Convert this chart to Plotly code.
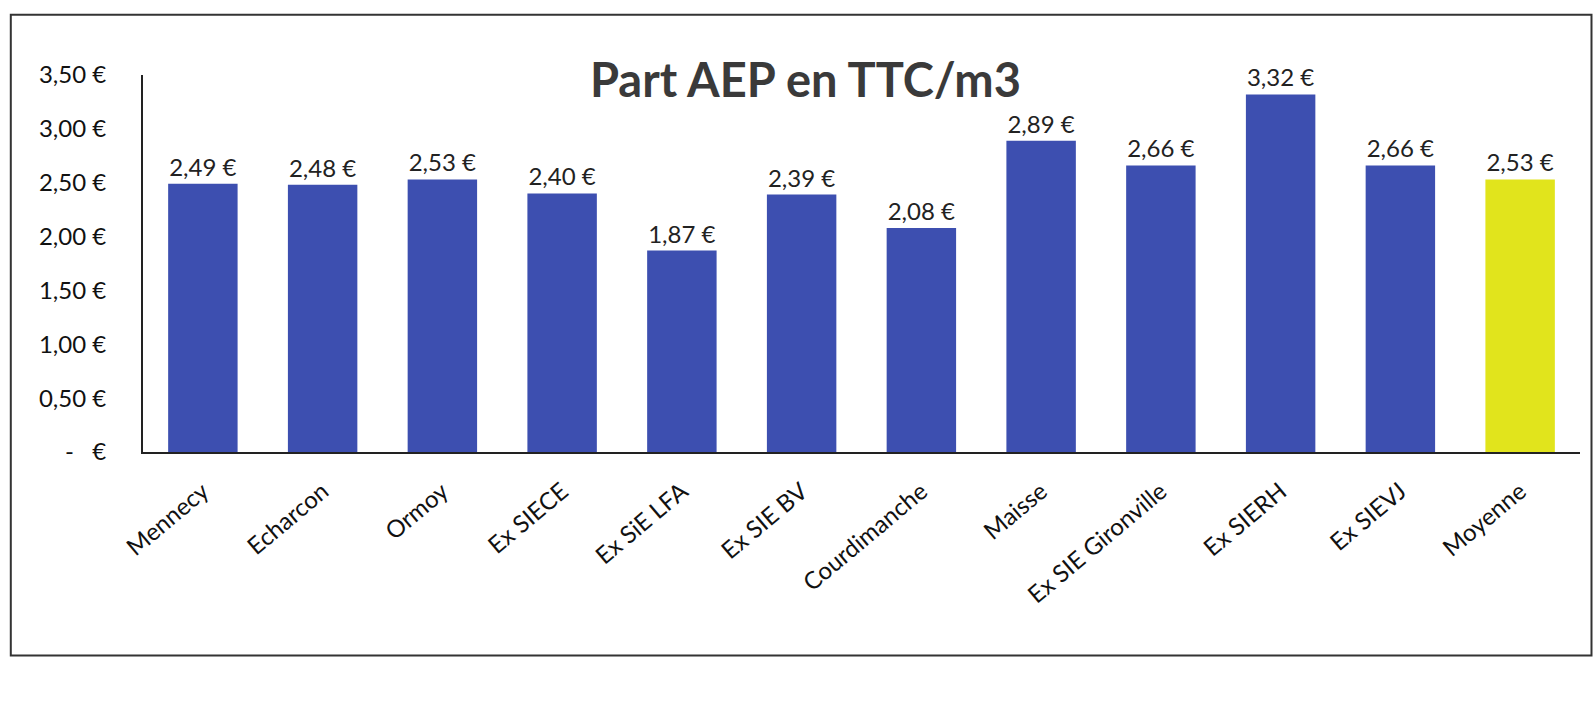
import plotly.graph_objects as go

# Prix de l'eau potable (part AEP, TTC par m3) par commune / ex-syndicat
categories = ["Mennecy", "Echarcon", "Ormoy", "Ex SIECE", "Ex SiE LFA", "Ex SIE BV",
              "Courdimanche", "Maisse", "Ex SIE Gironville", "Ex SIERH", "Ex SIEVJ", "Moyenne"]
values = [2.49, 2.48, 2.53, 2.40, 1.87, 2.39, 2.08, 2.89, 2.66, 3.32, 2.66, 2.53]

tick_values = [0, 0.5, 1.0, 1.5, 2.0, 2.5, 3.0, 3.5]
tick_labels = ["-   €", "0,50 €", "1,00 €", "1,50 €", "2,00 €", "2,50 €", "3,00 €", "3,50 €"]

BLUE = "#3d4fb0"
YELLOW = "#e1e41c"
colors = [YELLOW if c == "Moyenne" else BLUE for c in categories]
labels = [f"{v:.2f}".replace(".", ",") + " €" for v in values]

FONT = "Lato, Open Sans, sans-serif"

fig = go.Figure(
    go.Bar(
        x=categories,
        y=values,
        marker=dict(color=colors, line=dict(width=0)),
        text=labels,
        textposition="outside",
        textfont=dict(size=24, color="#222222", family=FONT),
        cliponaxis=False,
        width=0.58,
    )
)

fig.update_layout(
    width=1595,
    height=704,
    margin=dict(l=143, r=15, t=75, b=252),
    paper_bgcolor="white",
    plot_bgcolor="white",
    showlegend=False,
    title=dict(
        text="<b>Part AEP en TTC/m3</b>",
        x=0.505, xanchor="center",
        y=0.885, yanchor="middle",
        font=dict(size=47, color="#3a3a3a", family=FONT),
    ),
    font=dict(family=FONT, color="#222222"),
)

fig.update_xaxes(
    tickangle=-40,
    tickfont=dict(size=24, color="#111111"),
    showline=True, linecolor="#222222", linewidth=2,
    showgrid=False, ticks="",
    ticklabelstandoff=14,
)
fig.update_yaxes(
    range=[0, 3.5],
    tickvals=tick_values,
    ticktext=tick_labels,
    tickfont=dict(size=24, color="#111111"),
    showline=True, linecolor="#222222", linewidth=2,
    showgrid=False, zeroline=False, ticks="",
    ticklabelstandoff=30,
)

# Cadre extérieur du graphique
fig.add_shape(
    type="rect", xref="paper", yref="paper",
    x0=-0.092, x1=1.008, y0=-0.54, y1=1.16,
    line=dict(color="#333333", width=2),
    fillcolor="rgba(0,0,0,0)",
    layer="below",
)

fig.write_html("out.html")
